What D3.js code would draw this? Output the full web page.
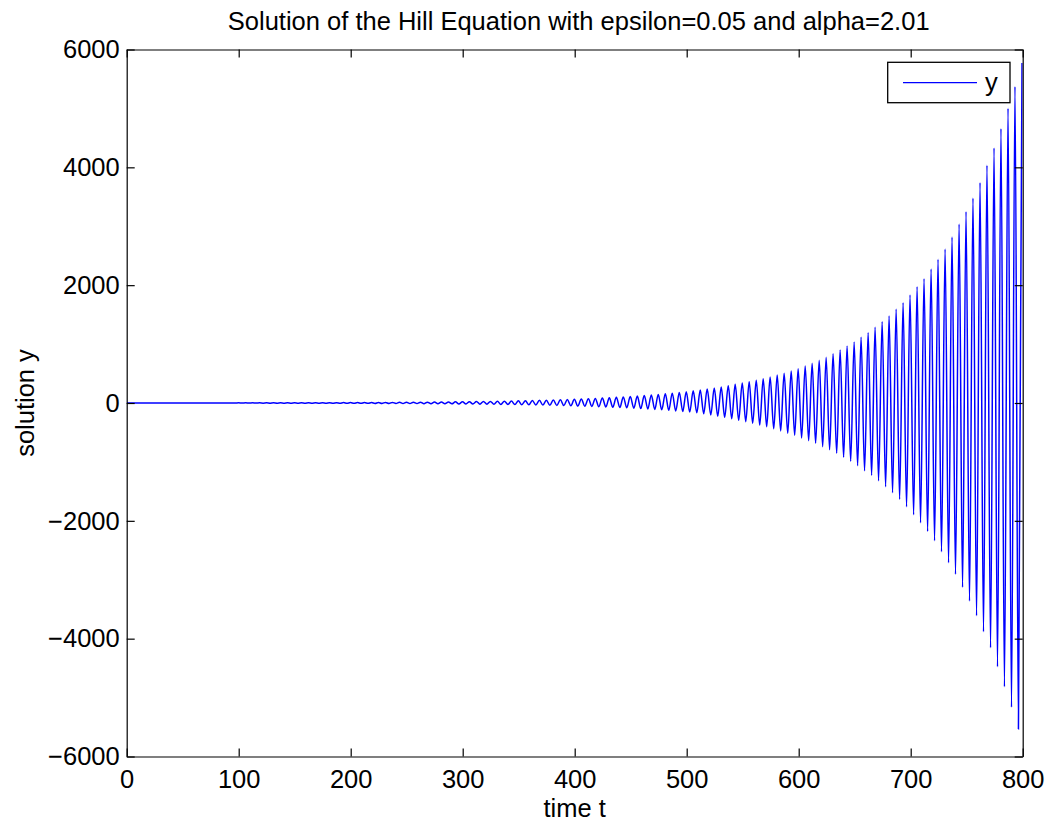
<!DOCTYPE html>
<html>
<head>
<meta charset="utf-8">
<script src="https://cdn.jsdelivr.net/npm/d3@7"></script>
<style>
  html, body { margin: 0; padding: 0; background: #fff; }
  svg text { font-family: "Liberation Sans", Arial, Helvetica, sans-serif; fill: #000; }
  .axis path, .axis line { stroke: #000; stroke-width: 1.2px; }
</style>
</head>
<body>
<svg id="chart" width="1045" height="821"></svg>
<script>
// tick labels
const xTicks = [0, 100, 200, 300, 400, 500, 600, 700, 800];
const yTicks = [-6000, -4000, -2000, 0, 2000, 4000, 6000];

// local maxima of y (time, value)
const peakT = [0, 6.2, 12.5, 18.7, 25.0, 31.2, 37.5, 43.7, 50.0, 56.2, 62.5, 68.7, 74.9, 81.2, 87.4, 93.7, 99.9,
  106.2, 112.4, 118.7, 124.9, 131.1, 137.4, 143.6, 149.9, 156.1, 162.4, 168.6, 174.9, 181.1, 187.4, 193.6, 199.8,
  206.1, 212.3, 218.6, 224.8, 231.1, 237.3, 243.6, 249.8, 256.0, 262.3, 268.5, 274.8, 281.0, 287.3, 293.5, 299.8,
  306.0, 312.3, 318.5, 324.7, 331.0, 337.2, 343.5, 349.7, 356.0, 362.2, 368.5, 374.7, 380.9, 387.2, 393.4, 399.7,
  405.9, 412.2, 418.4, 424.7, 430.9, 437.2, 443.4, 449.6, 455.9, 462.1, 468.4, 474.6, 480.9, 487.1, 493.4, 499.6,
  505.8, 512.1, 518.3, 524.6, 530.8, 537.1, 543.3, 549.6, 555.8, 562.1, 568.3, 574.5, 580.8, 587.0, 593.3, 599.5,
  605.8, 612.0, 618.3, 624.5, 630.7, 637.0, 643.2, 649.5, 655.7, 662.0, 668.2, 674.5, 680.7, 687.0, 693.2, 699.4,
  705.7, 711.9, 718.2, 724.4, 730.7, 736.9, 743.2, 749.4, 755.6, 761.9, 768.1, 774.4, 780.6, 786.9, 793.1, 799.4];
const peakY = [0.7, 0.8, 0.8, 0.9, 1.0, 1.0, 1.1, 1.2, 1.3, 1.4,
  1.5, 1.6, 1.7, 1.8, 2.0, 2.1, 2.3, 2.4, 2.6, 2.8,
  3.0, 3.2, 3.4, 3.7, 3.9, 4.2, 4.5, 4.8, 5.2, 5.5,
  5.9, 6.4, 6.8, 7.3, 7.8, 8.4, 9.0, 9.7, 10.4, 11.1,
  11.9, 12.8, 13.7, 14.7, 15.7, 16.9, 18.1, 19.4, 20.8, 22.3,
  23.9, 25.6, 27.5, 29.4, 31.6, 33.8, 36.3, 38.9, 41.7, 44.7,
  47.9, 51.3, 55.0, 59.0, 63.2, 67.8, 72.7, 77.9, 83.5, 89.5,
  96, 103, 110, 118, 127, 136, 146, 156, 167, 179,
  192, 206, 221, 238, 255, 272, 294, 317, 340, 362,
  385, 413, 441, 475, 504, 543, 582, 628, 674, 725,
  776, 837, 900, 968, 1036, 1115, 1194, 1285, 1380, 1477,
  1591, 1703, 1834, 1975, 2110, 2275, 2440, 2615, 2818, 3039,
  3248, 3480, 3740, 4035, 4330, 4657, 5003, 5370, 5770];

// local minima of y (time, value)
const troughT = [3.1, 9.4, 15.6, 21.9, 28.1, 34.3, 40.6, 46.8, 53.1, 59.3, 65.6, 71.8, 78.1, 84.3, 90.6, 96.8,
  103.0, 109.3, 115.5, 121.8, 128.0, 134.3, 140.5, 146.8, 153.0, 159.2, 165.5, 171.7, 178.0, 184.2, 190.5, 196.7,
  203.0, 209.2, 215.5, 221.7, 227.9, 234.2, 240.4, 246.7, 252.9, 259.2, 265.4, 271.7, 277.9, 284.1, 290.4, 296.6,
  302.9, 309.1, 315.4, 321.6, 327.9, 334.1, 340.4, 346.6, 352.8, 359.1, 365.3, 371.6, 377.8, 384.1, 390.3, 396.6,
  402.8, 409.0, 415.3, 421.5, 427.8, 434.0, 440.3, 446.5, 452.8, 459.0, 465.3, 471.5, 477.7, 484.0, 490.2, 496.5,
  502.7, 509.0, 515.2, 521.5, 527.7, 533.9, 540.2, 546.4, 552.7, 558.9, 565.2, 571.4, 577.7, 583.9, 590.2, 596.4,
  602.6, 608.9, 615.1, 621.4, 627.6, 633.9, 640.1, 646.4, 652.6, 658.8, 665.1, 671.3, 677.6, 683.8, 690.1, 696.3,
  702.6, 708.8, 715.1, 721.3, 727.5, 733.8, 740.0, 746.3, 752.5, 758.8, 765.0, 771.3, 777.5, 783.7, 790.0, 796.2];
const troughY = [-0.6, -0.6, -0.6, -0.7, -0.8, -0.8, -0.9, -1.0, -1.0, -1.1,
  -1.2, -1.3, -1.4, -1.4, -1.6, -1.7, -1.8, -1.9, -2.1, -2.2,
  -2.4, -2.6, -2.7, -3.0, -3.1, -3.4, -3.6, -3.8, -4.2, -4.4,
  -4.7, -5.1, -5.4, -5.8, -6.2, -6.7, -7.2, -7.8, -8.3, -8.9,
  -9.5, -10.2, -11.0, -11.8, -12.6, -13.5, -14.5, -15.5, -16.6, -17.8,
  -19.1, -20.5, -22, -24, -25, -27, -29, -31, -33, -36,
  -38, -41, -44, -47, -51, -54, -58, -62, -67, -72,
  -77, -82, -88, -95, -101, -109, -116, -125, -134, -144,
  -154, -165, -182, -204, -226, -243, -267, -294, -317, -345,
  -374, -402, -436, -475, -514, -548, -594, -640, -684, -742,
  -793, -854, -922, -990, -1064, -1150, -1228, -1319, -1421, -1523,
  -1635, -1761, -1897, -2033, -2179, -2338, -2525, -2712, -2908, -3129,
  -3362, -3610, -3882, -4154, -4477, -4817, -5166, -5535];

const titleText = "Solution of the Hill Equation with epsilon=0.05 and alpha=2.01";

const box = { left: 126.7, right: 1022.7, top: 49.5, bottom: 756.5 };
const fontSize = "25.5px";
const svg = d3.select("#chart");

const x = d3.scaleLinear().domain([0, 800]).range([box.left, box.right]);
const y = d3.scaleLinear().domain([-6000, 6000]).range([box.bottom, box.top]);

// merge maxima and minima into one time-ordered series
const points = peakT.map((t, i) => ({ t: t, v: peakY[i] }))
  .concat(troughT.map((t, i) => ({ t: t, v: troughY[i] })))
  .sort((a, b) => a.t - b.t);

svg.append("defs").append("clipPath").attr("id", "plotClip")
  .append("rect")
  .attr("x", box.left).attr("y", box.top)
  .attr("width", box.right - box.left).attr("height", box.bottom - box.top);

const line = d3.line()
  .x(d => x(d.t))
  .y(d => y(d.v))
  .curve(d3.curveMonotoneX);

svg.append("path")
  .datum(points)
  .attr("clip-path", "url(#plotClip)")
  .attr("fill", "none")
  .attr("stroke", "#0000ff")
  .attr("stroke-width", 1.5)
  .attr("d", line);

// axes, MATLAB style: ticks pointing inward on all four sides
const tickLen = 8;
const fmt = d3.format("d");

svg.append("g").attr("class", "axis")
  .attr("transform", `translate(0,${box.bottom})`)
  .call(d3.axisBottom(x).tickValues(xTicks).tickFormat(fmt).tickSizeInner(-tickLen).tickSizeOuter(0).tickPadding(13.7))
  .call(g => g.selectAll("text").style("font-size", fontSize));

svg.append("g").attr("class", "axis")
  .attr("transform", `translate(0,${box.top})`)
  .call(d3.axisTop(x).tickValues(xTicks).tickSizeInner(-tickLen).tickSizeOuter(0).tickFormat(""));

svg.append("g").attr("class", "axis")
  .attr("transform", `translate(${box.left},0)`)
  .call(d3.axisLeft(y).tickValues(yTicks).tickFormat(fmt).tickSizeInner(-tickLen).tickSizeOuter(0).tickPadding(7))
  .call(g => g.selectAll("text").style("font-size", fontSize));

svg.append("g").attr("class", "axis")
  .attr("transform", `translate(${box.right},0)`)
  .call(d3.axisRight(y).tickValues(yTicks).tickSizeInner(-tickLen).tickSizeOuter(0).tickFormat(""));

svg.selectAll(".axis .domain").attr("stroke-width", 1.3);

// title and axis labels
svg.append("text")
  .attr("x", (box.left + box.right) / 2 + 4)
  .attr("y", 29.5)
  .attr("text-anchor", "middle")
  .style("font-size", fontSize)
  .text(titleText);

svg.append("text")
  .attr("x", (box.left + box.right) / 2)
  .attr("y", 817)
  .attr("text-anchor", "middle")
  .style("font-size", fontSize)
  .text("time t");

svg.append("text")
  .attr("transform", `translate(34,${(box.top + box.bottom) / 2}) rotate(-90)`)
  .attr("text-anchor", "middle")
  .style("font-size", fontSize)
  .text("solution y");

// legend
const legend = svg.append("g");
legend.append("rect")
  .attr("x", 887.7).attr("y", 62.3)
  .attr("width", 122.3).attr("height", 40.4)
  .attr("fill", "#fff")
  .attr("stroke", "#000")
  .attr("stroke-width", 1.3);
legend.append("line")
  .attr("x1", 903).attr("x2", 977)
  .attr("y1", 82.7).attr("y2", 82.7)
  .attr("stroke", "#0000ff")
  .attr("stroke-width", 1.2);
legend.append("text")
  .attr("x", 985).attr("y", 91)
  .style("font-size", fontSize)
  .text("y");
</script>
</body>
</html>
